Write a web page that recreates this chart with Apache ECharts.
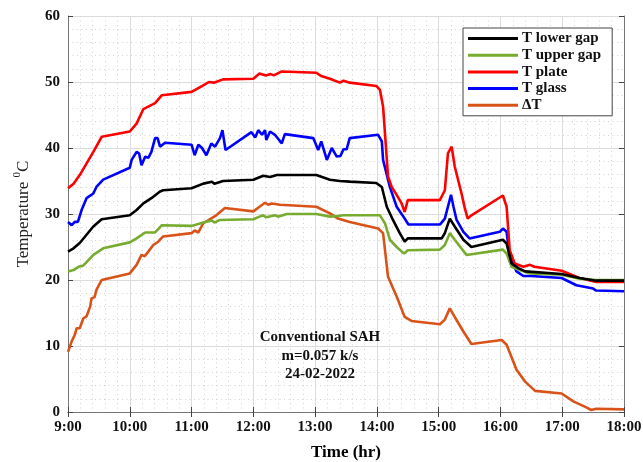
<!DOCTYPE html>
<html>
<head>
<meta charset="utf-8">
<script src="https://cdn.jsdelivr.net/npm/echarts@6/dist/echarts.min.js"></script>
<style>html,body{margin:0;padding:0;background:#fff}#c{width:643px;height:462px}</style>
</head>
<body>
<div id="c"></div>
<script>
// ---- data (time in hours, temperature in °C) ----
const xTickHours = [9, 10, 11, 12, 13, 14, 15, 16, 17, 18];
const seriesNames = ['T lower gap', 'T upper gap', 'T plate', 'T glass', '\u0394T'];

const lowerGapTime = [9.0, 9.09, 9.19, 9.41, 9.545, 10.0, 10.11, 10.22, 10.35, 10.49, 10.54, 11.0, 11.19, 11.33, 11.37, 11.51, 12.0, 12.16, 12.27, 12.38, 13.02, 13.24, 13.4, 13.56, 13.99, 14.08, 14.16, 14.26, 14.37, 14.45, 14.5, 15.05, 15.1, 15.18, 15.26, 15.4, 15.53, 16.04, 16.1, 16.18, 16.29, 16.4, 16.99, 17.28, 17.55, 18.0];
const lowerGapTemp = [24.3, 24.8, 25.6, 28.1, 29.2, 29.8, 30.6, 31.6, 32.4, 33.4, 33.6, 33.9, 34.6, 34.9, 34.6, 35.0, 35.2, 35.8, 35.6, 35.9, 35.9, 35.2, 35.0, 34.9, 34.7, 34.1, 31.1, 29.1, 27.1, 25.8, 26.3, 26.3, 27.1, 29.3, 28.1, 26.1, 25.0, 26.1, 25.5, 22.5, 21.8, 21.3, 20.9, 20.3, 19.9, 19.9];

const upperGapTime = [9.0, 9.09, 9.17, 9.25, 9.41, 9.57, 10.0, 10.11, 10.25, 10.41, 10.52, 11.0, 11.19, 11.33, 11.37, 11.46, 12.0, 12.1, 12.16, 12.21, 12.35, 12.4, 12.54, 13.02, 13.24, 13.37, 13.46, 14.05, 14.13, 14.21, 14.32, 14.44, 14.5, 15.02, 15.1, 15.18, 15.26, 15.45, 16.04, 16.1, 16.18, 16.31, 16.48, 16.99, 17.28, 17.55, 18.0];
const upperGapTemp = [21.3, 21.5, 22.0, 22.2, 23.8, 24.8, 25.7, 26.3, 27.2, 27.2, 28.3, 28.2, 28.7, 29.0, 28.7, 29.1, 29.2, 29.6, 29.8, 29.5, 29.8, 29.6, 30.0, 30.0, 29.6, 29.7, 29.8, 29.8, 28.6, 26.1, 25.0, 24.0, 24.5, 24.6, 25.3, 27.1, 26.1, 23.8, 24.6, 24.0, 22.0, 21.5, 21.0, 20.8, 20.2, 20.0, 20.0];

const plateTime = [9.0, 9.09, 9.19, 9.41, 9.545, 10.0, 10.11, 10.22, 10.41, 10.52, 11.0, 11.19, 11.28, 11.31, 11.36, 11.51, 12.0, 12.1, 12.2, 12.28, 12.33, 12.46, 13.02, 13.1, 13.24, 13.4, 13.46, 13.56, 13.99, 14.05, 14.1, 14.18, 14.24, 14.32, 14.4, 14.45, 14.5, 15.02, 15.1, 15.15, 15.21, 15.26, 15.37, 15.42, 15.47, 15.53, 16.04, 16.1, 16.15, 16.23, 16.37, 16.48, 16.55, 16.99, 17.28, 17.55, 18.0];
const plateTemp = [33.9, 34.6, 35.9, 39.4, 41.7, 42.5, 43.7, 45.9, 46.8, 48.0, 48.5, 49.5, 50.0, 50.3, 49.9, 50.4, 50.5, 51.3, 51.0, 51.2, 51.0, 51.6, 51.4, 50.9, 50.5, 49.9, 50.2, 49.9, 49.4, 48.8, 46.3, 35.7, 34.1, 32.9, 31.6, 30.3, 32.1, 32.1, 33.6, 39.2, 40.2, 37.2, 33.1, 31.0, 29.3, 29.8, 32.8, 31.1, 24.5, 22.5, 22.0, 22.3, 22.0, 21.4, 20.3, 19.7, 19.7];

const glassTime = [9.0, 9.06, 9.11, 9.16, 9.22, 9.30, 9.41, 9.46, 9.57, 10.0, 10.03, 10.11, 10.15, 10.19, 10.25, 10.3, 10.35, 10.41, 10.45, 10.49, 10.57, 11.0, 11.05, 11.11, 11.17, 11.24, 11.32, 11.38, 11.46, 11.5, 11.55, 11.97, 12.03, 12.08, 12.14, 12.19, 12.21, 12.27, 12.35, 12.46, 12.51, 12.97, 13.05, 13.1, 13.19, 13.27, 13.35, 13.41, 13.46, 13.51, 13.56, 14.02, 14.08, 14.1, 14.21, 14.32, 14.43, 14.51, 15.02, 15.1, 15.2, 15.24, 15.29, 15.4, 15.5, 15.99, 16.04, 16.1, 16.15, 16.26, 16.37, 16.5, 16.99, 17.23, 17.5, 17.55, 18.0];
const glassTemp = [28.8, 28.3, 28.8, 28.8, 30.6, 32.4, 33.1, 34.1, 35.2, 37.0, 38.2, 39.4, 39.2, 37.4, 38.7, 38.5, 39.4, 41.5, 41.5, 40.2, 40.8, 40.5, 38.9, 40.5, 40.0, 38.9, 40.7, 40.2, 41.5, 42.7, 39.7, 42.4, 41.6, 42.7, 42.0, 42.7, 41.2, 42.5, 42.0, 40.7, 42.1, 41.5, 39.7, 41.0, 38.2, 40.0, 38.7, 38.8, 39.8, 39.8, 41.5, 42.0, 41.0, 38.2, 34.1, 31.1, 29.6, 28.4, 28.4, 29.3, 32.9, 31.1, 29.1, 27.3, 26.3, 27.3, 27.8, 27.3, 23.5, 21.3, 20.6, 20.6, 20.3, 19.2, 18.7, 18.4, 18.3];

const deltaTime = [9.0, 9.06, 9.11, 9.14, 9.19, 9.25, 9.3, 9.36, 9.38, 9.43, 9.46, 9.545, 10.0, 10.11, 10.19, 10.24, 10.3, 10.38, 10.46, 10.54, 11.0, 11.05, 11.11, 11.19, 11.4, 11.54, 12.0, 12.1, 12.19, 12.24, 12.3, 12.43, 13.02, 13.24, 13.37, 13.56, 14.02, 14.1, 14.18, 14.32, 14.45, 14.56, 15.02, 15.1, 15.18, 15.26, 15.4, 15.53, 16.02, 16.1, 16.26, 16.4, 16.56, 16.99, 17.18, 17.39, 17.47, 17.55, 18.0];
const deltaTemp = [9.1, 10.7, 11.7, 12.7, 12.7, 14.2, 14.5, 16.0, 17.2, 17.4, 18.5, 20.0, 21.0, 22.3, 23.8, 23.6, 24.3, 25.3, 25.8, 26.6, 27.1, 27.5, 27.2, 28.6, 29.8, 30.9, 30.4, 31.1, 31.7, 31.4, 31.6, 31.4, 31.1, 30.1, 29.3, 28.8, 27.8, 27.1, 20.5, 17.5, 14.4, 13.8, 13.3, 14.0, 15.7, 14.4, 12.2, 10.3, 10.9, 10.2, 6.4, 4.6, 3.2, 2.8, 1.6, 0.7, 0.3, 0.5, 0.4];

const annotationLines = ['Conventional SAH', 'm=0.057 k/s', '24-02-2022'];

// ---- chart ----
const zip = (t, v) => t.map((x, i) => [x, v[i]]);
const colors = ['#000000', '#77ac30', '#ff0000', '#0000ff', '#d95319'];
const dataSets = [
  zip(lowerGapTime, lowerGapTemp),
  zip(upperGapTime, upperGapTemp),
  zip(plateTime, plateTemp),
  zip(glassTime, glassTemp),
  zip(deltaTime, deltaTemp)
];
const FONT = "'Liberation Serif', 'Times New Roman', serif";

const chart = echarts.init(document.getElementById('c'), null, {renderer: 'canvas'});
const axisLineStyle = {color: '#777', width: 1};
const baseX = {
  type: 'value', min: xTickHours[0], max: xTickHours[xTickHours.length - 1], interval: 1,
  axisLine: {show: true, lineStyle: axisLineStyle},
  axisTick: {show: true, inside: true, length: 5, lineStyle: {color: '#444'}}
};
const baseY = {
  type: 'value', min: 0, max: 60, interval: 10,
  axisLine: {show: true, lineStyle: axisLineStyle},
  axisTick: {show: true, inside: true, length: 5, lineStyle: {color: '#444'}}
};
const minorGrid = {show: true, lineStyle: {color: '#d2d2d2', type: [1, 3.5], width: 1}};

chart.setOption({
  animation: false,
  backgroundColor: '#fff',
  color: colors,
  grid: {left: 68, right: 19, top: 16, bottom: 50, containLabel: false, outerBoundsMode: 'none'},
  xAxis: [
    Object.assign({}, baseX, {
      position: 'bottom',
      name: 'Time (hr)', nameLocation: 'middle', nameGap: 32,
      nameTextStyle: {fontFamily: FONT, fontSize: 17, fontWeight: 'bold', color: '#000'},
      axisLabel: {formatter: v => Math.round(v) + ':00', fontFamily: FONT, fontSize: 15, fontWeight: 'bold', color: '#111', margin: 8},
      splitLine: {show: true, lineStyle: {color: '#dcdcdc', width: 1}},
      minorTick: {show: true, splitNumber: 5, length: 0},
      minorSplitLine: minorGrid
    }),
    Object.assign({}, baseX, {position: 'top', axisLabel: {show: false}, splitLine: {show: false}})
  ],
  yAxis: [
    Object.assign({}, baseY, {
      position: 'left',
      name: '{t|Temperature }{s|0}{t|C}', nameLocation: 'middle', nameGap: 36,
      nameTextStyle: {
        color: '#222',
        rich: {
          t: {fontFamily: FONT, fontSize: 17, color: '#222', lineHeight: 20, verticalAlign: 'bottom'},
          s: {fontFamily: FONT, fontSize: 11, color: '#222', lineHeight: 20, verticalAlign: 'top'}
        }
      },
      axisLabel: {fontFamily: FONT, fontSize: 15, fontWeight: 'bold', color: '#111', margin: 8},
      splitLine: {show: true, lineStyle: {color: '#dcdcdc', width: 1}},
      minorTick: {show: true, splitNumber: 5, length: 0},
      minorSplitLine: minorGrid
    }),
    Object.assign({}, baseY, {position: 'right', axisLabel: {show: false}, splitLine: {show: false}})
  ],
  legend: {
    orient: 'vertical', left: 463, top: 28,
    backgroundColor: '#fff', borderColor: '#444', borderWidth: 1,
    padding: [3, 11, 3, 5], itemGap: 1.7,
    icon: 'rect', itemWidth: 50, itemHeight: 3,
    textStyle: {fontFamily: FONT, fontSize: 15, fontWeight: 'bold', color: '#111', lineHeight: 15, padding: [0, 0, 0, -1]},
    data: seriesNames
  },
  graphic: [{
    type: 'text', x: 320, y: 328, z: 20,
    style: {
      text: annotationLines.join('\n'), textAlign: 'center', textVerticalAlign: 'top',
      fontFamily: FONT, fontSize: 15, fontWeight: 'bold', fill: '#111', lineHeight: 18.5
    }
  }],
  series: seriesNames.map((n, i) => ({
    name: n, type: 'line', data: dataSets[i], showSymbol: false, symbol: 'none',
    lineStyle: {width: 2.6, color: colors[i]}, xAxisIndex: 0, yAxisIndex: 0, z: 10 - i
  }))
});
</script>
</body>
</html>
